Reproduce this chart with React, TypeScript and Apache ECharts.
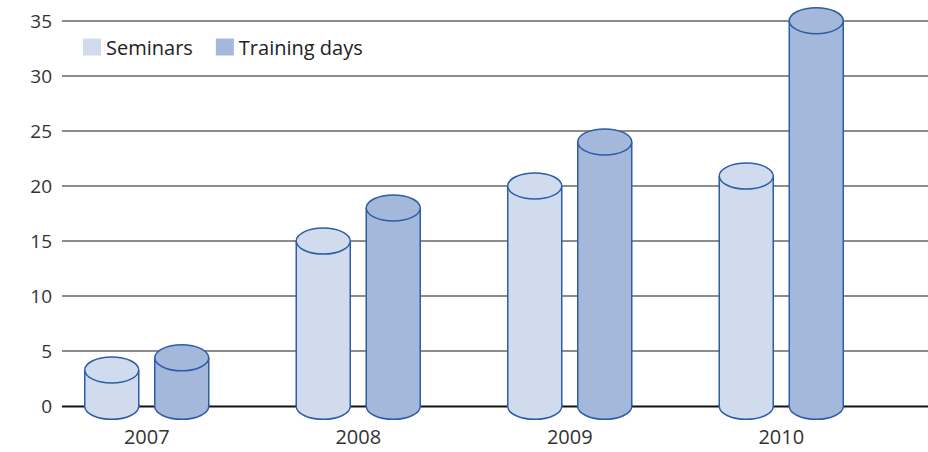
import React, { useEffect, useRef } from "react";
import * as echarts from "echarts";

const years = ["2007", "2008", "2009", "2010"];
const seminars = [3.3, 15, 20, 20.9];
const trainingDays = [4.4, 18, 24, 35];
const yTicks = { min: 0, max: 35, interval: 5 };

const FONT = "'Open Sans', sans-serif";
const STROKE = "#2c5da6";

function makeRender(offset: number, fill: string) {
  return (params: any, api: any) => {
    const cat = api.value(0);
    const val = api.value(1);
    const top = api.coord([cat, val]);
    const base = api.coord([cat, 0]);
    const cx = top[0] + offset;
    const w = 54;
    const rx = w / 2;
    const ry = 13;
    const x0 = cx - rx;
    const x1 = cx + rx;
    return {
      type: "group",
      children: [
        {
          type: "ellipse",
          shape: { cx, cy: base[1], rx, ry },
          style: { fill, stroke: STROKE, lineWidth: 1.5 },
        },
        {
          type: "rect",
          shape: { x: x0, y: top[1], width: w, height: base[1] - top[1] },
          style: { fill },
        },
        {
          type: "line",
          shape: { x1: x0, y1: top[1], x2: x0, y2: base[1] },
          style: { stroke: STROKE, lineWidth: 1.5 },
        },
        {
          type: "line",
          shape: { x1: x1, y1: top[1], x2: x1, y2: base[1] },
          style: { stroke: STROKE, lineWidth: 1.5 },
        },
        {
          type: "ellipse",
          shape: { cx, cy: top[1], rx, ry },
          style: { fill, stroke: STROKE, lineWidth: 1.5 },
        },
      ],
    };
  };
}

export default function App() {
  const ref = useRef<HTMLDivElement>(null);
  useEffect(() => {
    if (!ref.current) return;
    const chart = echarts.init(ref.current, undefined, { renderer: "svg" });
    const top = 20.7;
    const bottom = 45.7;
    chart.setOption({
      animation: false,
      backgroundColor: "#ffffff",
      textStyle: { fontFamily: FONT },
      legend: {
        left: 83,
        top: 37,
        padding: 0,
        icon: "rect",
        itemWidth: 18,
        itemHeight: 17,
        itemGap: 23,
        textStyle: { fontFamily: FONT, fontSize: 20, color: "#222" },
        data: ["Seminars", "Training days"],
      },
      grid: [
        { left: 62, right: 0, top, bottom },
        { left: 41, right: 41, top, bottom },
      ],
      xAxis: [
        {
          type: "value",
          gridIndex: 0,
          min: 0,
          max: 1,
          axisLine: { show: false },
          axisTick: { show: false },
          axisLabel: { show: false },
          splitLine: { show: false },
        },
        {
          type: "category",
          gridIndex: 1,
          data: years,
          axisLine: { show: false },
          axisTick: { show: false },
          axisLabel: {
            fontFamily: FONT,
            fontSize: 20,
            color: "#333",
            margin: 20,
          },
        },
      ],
      yAxis: [
        {
          type: "value",
          gridIndex: 0,
          min: yTicks.min,
          max: yTicks.max,
          interval: yTicks.interval,
          axisLine: { show: false },
          axisTick: { show: false },
          axisLabel: { fontFamily: FONT, fontSize: 19, color: "#333", margin: 10 },
          splitLine: { lineStyle: { color: "#666", width: 1.5 } },
        },
        {
          type: "value",
          gridIndex: 1,
          min: yTicks.min,
          max: yTicks.max,
          show: false,
          splitLine: { show: false },
        },
      ],
      series: [
        {
          type: "line",
          xAxisIndex: 0,
          yAxisIndex: 0,
          data: [
            [0, 0],
            [1, 0],
          ],
          symbol: "none",
          lineStyle: { color: "#111", width: 1.5 },
          silent: true,
          z: 1,
        },
        {
          name: "Seminars",
          type: "custom",
          xAxisIndex: 1,
          yAxisIndex: 1,
          itemStyle: { color: "#d0dcee" },
          data: seminars.map((v, i) => [i, v]),
          renderItem: makeRender(-35, "#d0dcee"),
          z: 3,
        },
        {
          name: "Training days",
          type: "custom",
          xAxisIndex: 1,
          yAxisIndex: 1,
          itemStyle: { color: "#a3b8db" },
          data: trainingDays.map((v, i) => [i, v]),
          renderItem: makeRender(35, "#a3b8db"),
          z: 3,
        },
      ],
    });
    return () => chart.dispose();
  }, []);
  return (
    <div
      ref={ref}
      style={{ position: "fixed", left: 0, top: 0, width: 928, height: 452 }}
    />
  );
}
